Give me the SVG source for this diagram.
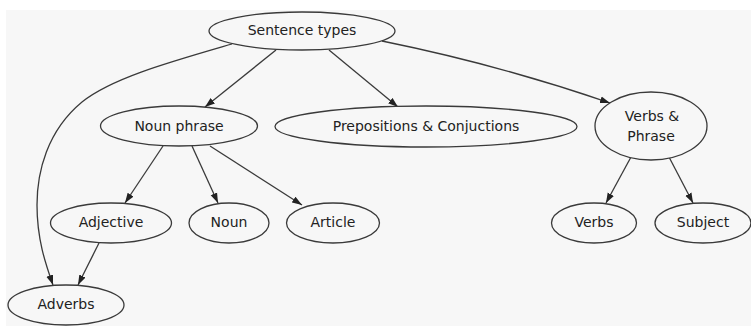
<svg xmlns="http://www.w3.org/2000/svg" width="751" height="326" viewBox="0 0 751 326">
<style>
.n ellipse{fill:#f7f7f7;stroke:#3a3a3a;stroke-width:1.3}
.n text{font-family:"DejaVu Sans",sans-serif;font-size:14px;fill:#222;text-anchor:middle;dominant-baseline:central}
#edges path{fill:none;stroke:#3a3a3a;stroke-width:1.3;marker-end:url(#ah)}
</style>
<defs>
<marker id="ah" markerUnits="userSpaceOnUse" markerWidth="11" markerHeight="8" refX="10" refY="4" orient="auto">
<path d="M0,0.5 L10,4 L0,7.5 z" fill="#222"/>
</marker>
</defs>
<rect x="0" y="0" width="751" height="326" fill="#ffffff"/>
<rect x="6" y="10" width="745" height="316" fill="#f7f7f7"/>
<g id="edges">
<path d="M276,50 L205,107"/>
<path d="M329,50 L398,107"/>
<path d="M382,41 Q500,65 610,103"/>
<path d="M232,44 C170,62 112,78 82,102 C47,131 37,172 37,205 C37,240 46,265 53,285"/>
<path d="M163,146 L125,203"/>
<path d="M192,146 L218,203"/>
<path d="M210,146 L302,205"/>
<path d="M99,243 L78,285"/>
<path d="M631,157 L606,203"/>
<path d="M669,157 L693,203"/>
</g>
<g id="sentence-types" class="n"><ellipse cx="302" cy="31" rx="93" ry="19"/><text x="302" y="30">Sentence types</text></g>
<g id="noun-phrase" class="n"><ellipse cx="179" cy="126" rx="78.5" ry="20"/><text x="179" y="126">Noun phrase</text></g>
<g id="prepositions" class="n"><ellipse cx="426" cy="126.5" rx="151" ry="20.5"/><text x="426" y="126">Prepositions &amp; Conjuctions</text></g>
<g id="verbs-phrase" class="n"><ellipse cx="651" cy="126" rx="56" ry="34"/><text x="652" y="116">Verbs &amp;</text><text x="651" y="136">Phrase</text></g>
<g id="adjective" class="n"><ellipse cx="111" cy="223" rx="60.5" ry="20"/><text x="111" y="222">Adjective</text></g>
<g id="noun" class="n"><ellipse cx="229" cy="223" rx="40" ry="20"/><text x="229" y="222">Noun</text></g>
<g id="article" class="n"><ellipse cx="333" cy="223" rx="46.5" ry="20"/><text x="333" y="222">Article</text></g>
<g id="adverbs" class="n"><ellipse cx="66" cy="305" rx="58" ry="20"/><text x="66" y="304">Adverbs</text></g>
<g id="verbs" class="n"><ellipse cx="594" cy="223" rx="42.5" ry="20"/><text x="594" y="222">Verbs</text></g>
<g id="subject" class="n"><ellipse cx="703" cy="223" rx="48" ry="20"/><text x="703" y="222">Subject</text></g>
</svg>
